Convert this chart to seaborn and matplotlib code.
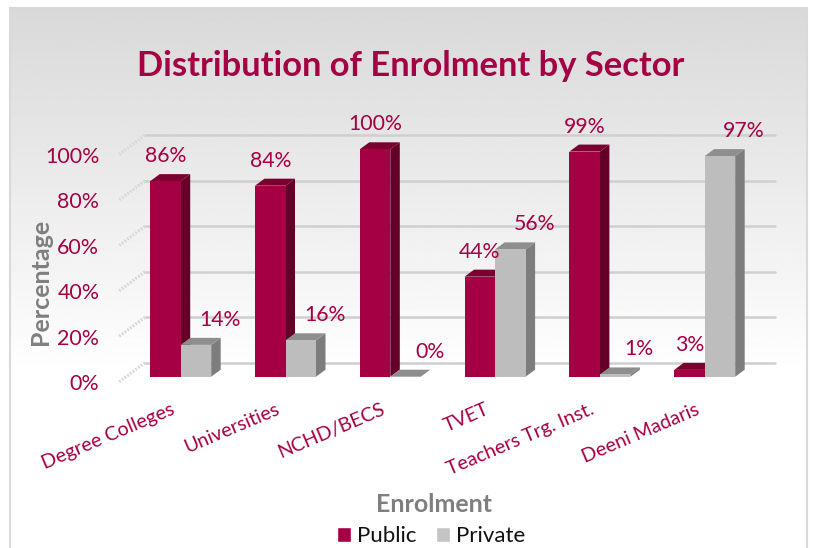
# Distribution of Enrolment by Sector (3D look column chart)

import numpy as np
import pandas as pd

import seaborn as sns
import matplotlib.pyplot as plt
from matplotlib.patches import Patch, Polygon
from matplotlib.transforms import ScaledTranslation

# Data

sectors = ["Degree Colleges", "Universities", "NCHD/BECS", "TVET",
           "Teachers Trg. Inst.", "Deeni Madaris"]
public_pct = [86, 84, 100, 44, 99, 3]
private_pct = [14, 16, 0, 56, 1, 97]
y_ticks = [0, 20, 40, 60, 80, 100]

df = pd.DataFrame({
    "Sector": sectors * 2,
    "Value": public_pct + private_pct,
    "Type": ["Public"] * len(sectors) + ["Private"] * len(sectors),
})

W, H = 813, 548
MAROON = "#A50044"
GREY_TEXT = "#7F7F7F"

# Colours: front, side, top
shades = {
    "Public": (MAROON, "#640027", "#7A0030"),
    "Private": ("#BDBDBD", "#7D7D7D", "#8E8E8E"),
}

sns.set_theme(style="white")
plt.rcParams["font.family"] = ["Lato", "DejaVu Sans"]

fig = plt.figure(figsize=(W / 100, H / 100), dpi=100)
fig.patch.set_facecolor("white")

# Grey to white panel behind the chart

bg = fig.add_axes([10 / W, 0, 797 / W, 540 / H])
shade = np.clip(np.linspace(0.85, 1.07, 400), 0, 1).reshape(-1, 1)
bg.imshow(shade, cmap="gray", vmin=0, vmax=1, aspect="auto")
bg.set_xticks([])
bg.set_yticks([])
for side in ["top", "left", "right"]:
    bg.spines[side].set_color("#D9D9D9")
    bg.spines[side].set_linewidth(1.5)
bg.spines["bottom"].set_visible(False)

# Axes placed so that pixels line up: x from 118 to 775, zero line at y=376.7

PX_X = 104.8
PX_Y = 2.274
ax = fig.add_axes([118 / W, (H - 376.7) / H, (775 - 118) / W, (376.7 - 118) / H])
ax.patch.set_alpha(0)

sns.barplot(
    data=df, x="Sector", y="Value", hue="Type",
    hue_order=["Public", "Private"],
    palette={"Public": shades["Public"][0], "Private": shades["Private"][0]},
    width=0.582, gap=0, saturation=1, legend=False, ax=ax,
    edgecolor="none", linewidth=0,
)

ax.set_xlim((118 - 180.7) / PX_X, (775 - 180.7) / PX_X)
ax.set_ylim(0, (376.7 - 118) / PX_Y)

# Back wall and side wall lines

wall_dx = 27 / PX_X
wall_dy = 14 / PX_Y
wall_drop = 20 / PX_Y
x_left, x_right = ax.get_xlim()
for v in y_ticks:
    ax.plot([x_left + wall_dx, x_right], [v + wall_dy, v + wall_dy],
            color="#CFCFCF", lw=1.8, zorder=1, clip_on=False)
    ax.plot([x_left + wall_dx, x_left], [v + wall_dy, v + wall_dy - wall_drop],
            color="#D8D8D8", lw=2.2, ls=(0, (0.6, 0.5)), zorder=1, clip_on=False)

# Side and top faces are worked out from the bars seaborn drew

depth_x = 9.5 / PX_X
depth_y = 7 / PX_Y
labels_shift = {"Public": 0, "Private": 24}

for i, (name, container) in enumerate(zip(["Public", "Private"], ax.containers)):
    front, side_c, top_c = shades[name]
    z = 3 + i
    for bar in container:
        x0 = bar.get_x()
        x1 = x0 + bar.get_width()
        h = bar.get_height()
        bar.set_zorder(z + 0.2)
        ax.add_patch(Polygon(
            [(x1, 0), (x1 + depth_x, depth_y), (x1 + depth_x, h + depth_y), (x1, h)],
            facecolor=side_c, edgecolor="none", zorder=z, clip_on=False))
        ax.add_patch(Polygon(
            [(x0, h), (x0 + depth_x, h + depth_y), (x1 + depth_x, h + depth_y), (x1, h)],
            facecolor=top_c, edgecolor="none", zorder=z + 0.1, clip_on=False))
        ax.annotate(
            f"{h:.0f}%", xy=((x0 + x1) / 2, h),
            xytext=(labels_shift[name], 25), textcoords="offset pixels",
            ha="center", va="center", color=MAROON, fontsize=15.3,
            zorder=6, annotation_clip=False)

# Ticks

sns.despine(ax=ax, left=True, bottom=True)
ax.set_xlabel("")
ax.set_ylabel("")
ax.set_yticks(y_ticks)
ax.set_yticklabels([f"{v}%" for v in y_ticks])
ax.tick_params(axis="y", length=0, pad=13.5, labelsize=15.4, labelcolor=MAROON)
ax.tick_params(axis="x", length=0, pad=0, labelsize=14.1, labelcolor=MAROON)

y_shift = ScaledTranslation(0, -5.5 / 100, fig.dpi_scale_trans)
for lab in ax.get_yticklabels():
    lab.set_transform(lab.get_transform() + y_shift)

x_shift = ScaledTranslation(-6.5 / 100, -32 / 100, fig.dpi_scale_trans)
for lab in ax.get_xticklabels():
    lab.set_rotation(23)
    lab.set_ha("right")
    lab.set_va("center")
    lab.set_rotation_mode("anchor")
    lab.set_transform(lab.get_transform() + x_shift)

# Titles

fig.text(410.5 / W, (H - 66) / H, "Distribution of Enrolment by Sector",
         ha="center", va="center", color=MAROON, fontsize=24.8, fontweight="bold")
fig.text(40 / W, (H - 282) / H, "Percentage", rotation=90,
         ha="center", va="center", color=GREY_TEXT, fontsize=18, fontweight="bold")
fig.text(434 / W, (H - 504) / H, "Enrolment",
         ha="center", va="center", color=GREY_TEXT, fontsize=18, fontweight="bold")

# Legend

handles = [
    Patch(facecolor=MAROON, label="Public"),
    Patch(facecolor="#C4C4C4", label="Private"),
]
fig.legend(
    handles=handles, loc="center", bbox_to_anchor=(431 / W, (H - 536) / H),
    ncol=2, frameon=False, fontsize=16, labelcolor="#111111",
    handlelength=0.65, handleheight=0.65, handletextpad=0.27,
    columnspacing=0.85, borderpad=0, borderaxespad=0,
)

fig.savefig("out.png", dpi=100)
